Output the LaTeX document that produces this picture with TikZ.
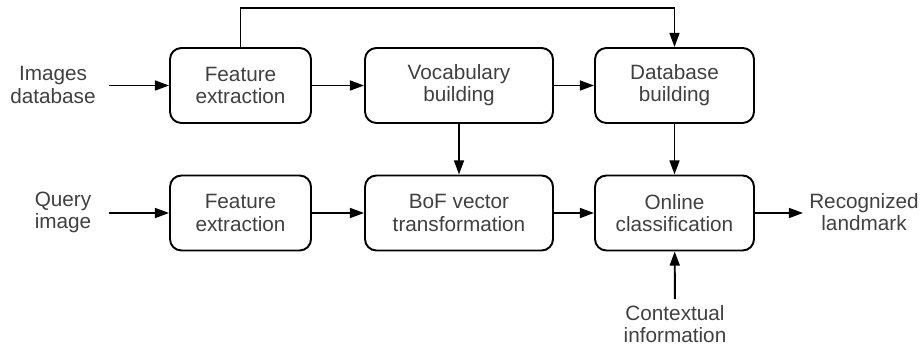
\documentclass[tikz,border=0pt]{standalone}
\usepackage{fontspec}
\setmainfont{Liberation Sans}
\usetikzlibrary{arrows.meta, positioning, calc}
\definecolor{txtgray}{HTML}{404040}

\begin{document}
\begin{tikzpicture}[
  font=\fontsize{11.8}{12.6}\selectfont,
  block/.style={rectangle, rounded corners=6.5pt, draw, line width=1.1pt,
                minimum height=1.5cm, align=center, text=txtgray},
  label/.style={align=center, text=txtgray},
  flow/.style={-{Triangle[length=8pt, width=5.6pt]}, line width=1.1pt},
]
  \useasboundingbox (0,0) rectangle (18.4,-6.94);

  % offline branch
  \node[block, minimum width=2.82cm] (featdb) at (4.81,-1.71) {Feature\\extraction};
  \node[block, minimum width=3.76cm] (vocab) at (9.18,-1.71) {Vocabulary\\building};
  \node[block, minimum width=3.18cm] (dbbuild) at (13.49,-1.71) {Database\\building};

  % online branch
  \node[block, minimum width=2.82cm] (featq) at (4.81,-4.26) {Feature\\extraction};
  \node[block, minimum width=3.76cm] (bof) at (9.18,-4.26) {BoF vector\\transformation};
  \node[block, minimum width=3.18cm] (online) at (13.49,-4.26) {Online\\classification};

  % inputs and outputs
  \node[label] (imgs) at (1.06,-1.7) {Images\\database};
  \node[label] (query) at (1.26,-4.24) {Query\\image};
  \node[label] (result) at (17.28,-4.24) {Recognized\\landmark};
  \node[label] (context) at (13.5,-6.48) {Contextual\\information};

  \draw[flow, shorten <=0.14cm] (imgs.east |- featdb) -- (featdb.west);
  \draw[flow] (featdb) -- (vocab);
  \draw[flow] (vocab) -- (dbbuild);
  \draw[flow] (featdb.north) -- ++(0,0.78) -| (dbbuild.north);

  \draw[flow, shorten <=0.24cm] (query.east |- featq) -- (featq.west);
  \draw[flow] (featq) -- (bof);
  \draw[flow] (bof) -- (online);
  \draw[flow] (vocab) -- (bof);
  \draw[flow] (dbbuild) -- (online);
  \draw[flow] (online) -- (result.west |- online);
  \draw[flow] (context) -- (online);

\end{tikzpicture}
\end{document}
